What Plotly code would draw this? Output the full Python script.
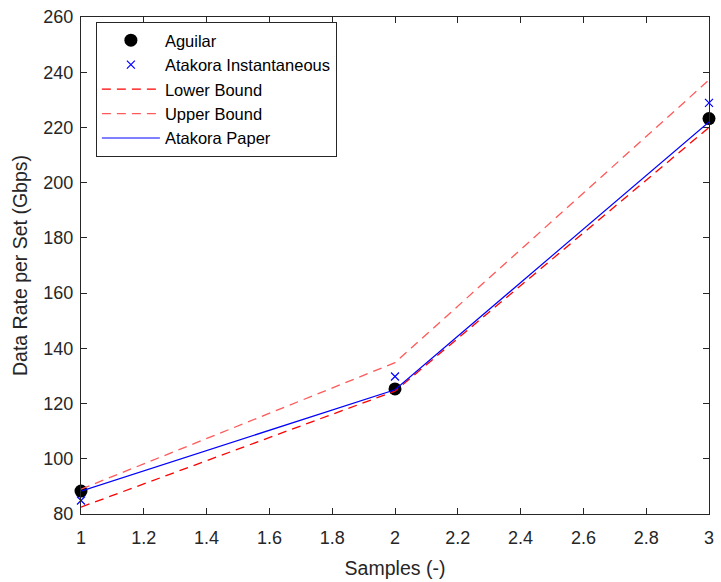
import plotly.graph_objects as go

samples = [1, 2, 3]
aguilar = [88.3, 125.3, 223.2]
atakora_inst = [84.9, 129.8, 228.9]
lower_bound = [82.5, 124.5, 220.0]
upper_bound = [89.0, 134.8, 237.2]
atakora_paper = [88.3, 125.0, 222.0]

x_ticks = [1, 1.2, 1.4, 1.6, 1.8, 2, 2.2, 2.4, 2.6, 2.8, 3]
x_tick_labels = ["1", "1.2", "1.4", "1.6", "1.8", "2", "2.2", "2.4", "2.6", "2.8", "3"]
y_ticks = [80, 100, 120, 140, 160, 180, 200, 220, 240, 260]

FONT = "Liberation Sans, Arial, Helvetica, sans-serif"
AX = "#262626"

fig = go.Figure()
fig.add_trace(go.Scatter(x=samples, y=aguilar, mode="markers", name="Aguilar", cliponaxis=False,
                         marker=dict(color="black", size=13, symbol="circle")))
fig.add_trace(go.Scatter(x=samples, y=atakora_inst, mode="markers", name="Atakora Instantaneous",
                         cliponaxis=False,
                         marker=dict(color="blue", size=8, symbol="x-thin",
                                     line=dict(color="blue", width=1.2))))
fig.add_trace(go.Scatter(x=samples, y=lower_bound, mode="lines", name="Lower Bound",
                         line=dict(color="#ff0000", width=1.3, dash="9px,6px")))
fig.add_trace(go.Scatter(x=samples, y=upper_bound, mode="lines", name="Upper Bound",
                         line=dict(color="#ff5a5a", width=1.3, dash="9px,6px")))
fig.add_trace(go.Scatter(x=samples, y=atakora_paper, mode="lines", name="Atakora Paper",
                         line=dict(color="blue", width=1.2)))

axis_common = dict(
    showgrid=False, zeroline=False, showline=True, linecolor=AX, linewidth=1,
    mirror="ticks", ticks="inside", ticklen=6, tickcolor=AX, tickwidth=1,
    tickfont=dict(family=FONT, size=18, color=AX),
)

fig.update_layout(
    width=721, height=582,
    margin=dict(l=81, r=7, t=16, b=66),
    paper_bgcolor="white", plot_bgcolor="white",
    showlegend=True,
    legend=dict(x=0.0237, y=0.99, xanchor="left", yanchor="top",
                bgcolor="white", bordercolor=AX, borderwidth=1,
                font=dict(family=FONT, size=16.5, color="black"),
                itemwidth=58, tracegroupgap=0),
    xaxis=dict(range=[1, 3], tickvals=x_ticks, ticktext=x_tick_labels, ticklabelstandoff=7,
               title=dict(text="Samples (-)", font=dict(family=FONT, size=19.5, color=AX), standoff=14),
               **axis_common),
    yaxis=dict(range=[80, 260], tickvals=y_ticks, ticklabelstandoff=3,
               title=dict(text="Data Rate per Set (Gbps)", font=dict(family=FONT, size=19.5, color=AX), standoff=10),
               **axis_common),
)

fig.write_html("out.html")
